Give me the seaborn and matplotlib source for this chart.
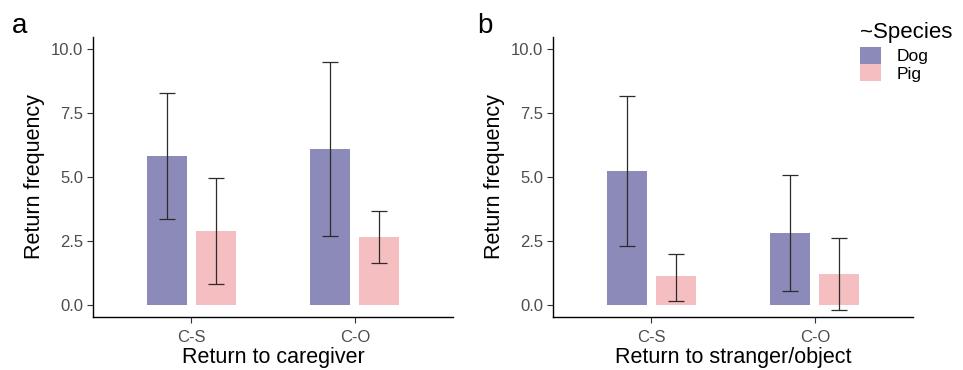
import numpy as np
import pandas as pd
import matplotlib
matplotlib.use("Agg")
import matplotlib.pyplot as plt
import seaborn as sns

# ---- data ----
conditions = ["C-S", "C-O"]
species = ["Dog", "Pig"]

a_dog_mean = [5.82, 6.07]
a_dog_low = [3.37, 2.68]
a_dog_high = [8.27, 9.46]
a_pig_mean = [2.89, 2.66]
a_pig_low = [0.80, 1.65]
a_pig_high = [4.97, 3.66]

b_dog_mean = [5.24, 2.80]
b_dog_low = [2.28, 0.56]
b_dog_high = [8.15, 5.08]
b_pig_mean = [1.12, 1.21]
b_pig_low = [0.16, -0.20]
b_pig_high = [2.00, 2.62]

y_ticks = [0.0, 2.5, 5.0, 7.5, 10.0]
y_ticklabels = ["0.0", "2.5", "5.0", "7.5", "10.0"]

panel_titles = ["a", "b"]
x_titles = ["Return to caregiver", "Return to stranger/object"]
y_title = "Return frequency"
legend_title = "~Species"

colors = {"Dog": "#8B8AB8", "Pig": "#F5BEC0"}


def make_df(dog_m, dog_l, dog_h, pig_m, pig_l, pig_h):
    rows = []
    for i, c in enumerate(conditions):
        rows.append(dict(cond=c, species="Dog", mean=dog_m[i], low=dog_l[i], high=dog_h[i]))
    for i, c in enumerate(conditions):
        rows.append(dict(cond=c, species="Pig", mean=pig_m[i], low=pig_l[i], high=pig_h[i]))
    return pd.DataFrame(rows)


df_a = make_df(a_dog_mean, a_dog_low, a_dog_high, a_pig_mean, a_pig_low, a_pig_high)
df_b = make_df(b_dog_mean, b_dog_low, b_dog_high, b_pig_mean, b_pig_low, b_pig_high)

sns.set_theme(style="ticks")
plt.rcParams["font.family"] = ["Liberation Sans", "DejaVu Sans"]
plt.rcParams["text.color"] = "black"
plt.rcParams["axes.labelcolor"] = "black"

fig = plt.figure(figsize=(9.63, 3.70), dpi=100)
W, H = 963, 370
axes = [
    fig.add_axes([93 / W, (H - 317) / H, 360 / W, 280 / H]),
    fig.add_axes([553 / W, (H - 317) / H, 360 / W, 280 / H]),
]

for k, (ax, df) in enumerate(zip(axes, [df_a, df_b])):
    sns.barplot(data=df, x="cond", y="mean", hue="species", order=conditions,
                hue_order=species, palette=colors, errorbar=None, width=0.6,
                gap=0.18, saturation=1, legend=False, ax=ax, edgecolor="none")
    for j, sp in enumerate(species):
        cont = ax.containers[j]
        sub = df[df.species == sp].set_index("cond").loc[conditions]
        xs = [p.get_x() + p.get_width() / 2 for p in cont.patches]
        m = sub["mean"].values
        yerr = np.vstack([m - sub["low"].values, sub["high"].values - m])
        ax.errorbar(xs, m, yerr=yerr, fmt="none", ecolor="#2b2b2b",
                    elinewidth=0.9, capsize=6, capthick=0.9, zorder=5)
    ax.set_xlim(-0.6, 1.6)
    ax.set_ylim(-0.47, 10.45)
    ax.set_yticks(y_ticks)
    ax.set_yticklabels(y_ticklabels)
    ax.tick_params(axis="both", labelsize=12, labelcolor="#4D4D4D",
                   color="#333333", length=4, width=0.8)
    ax.tick_params(axis="x", pad=5)
    ax.tick_params(axis="y", pad=3)
    ax.set_xlabel(x_titles[k], fontsize=15.5, color="black", labelpad=2)
    ax.set_ylabel(y_title, fontsize=15.5, color="black", labelpad=4)
    sns.despine(ax=ax)
    for s in ["left", "bottom"]:
        ax.spines[s].set_linewidth(1.0)
        ax.spines[s].set_color("black")

fig.text(12 / W, 1 - 33 / H, panel_titles[0], fontsize=20, va="baseline", ha="left", color="black")
fig.text(477 / W, 1 - 33 / H, panel_titles[1], fontsize=20, va="baseline", ha="left", color="black")

handles = [axes[1].containers[0].patches[0], axes[1].containers[1].patches[0]]
leg = fig.legend(handles=handles, labels=species, title=legend_title,
                 loc="upper left", bbox_to_anchor=(853 / W, 1 - 15 / H),
                 frameon=False, fontsize=12.5, title_fontsize=16,
                 handlelength=1.2, handleheight=1.1, handletextpad=0.9,
                 labelspacing=0.0, borderaxespad=0)
leg._legend_box.align = "left"
leg._legend_box.sep = 3

fig.savefig("out.png", dpi=100)
